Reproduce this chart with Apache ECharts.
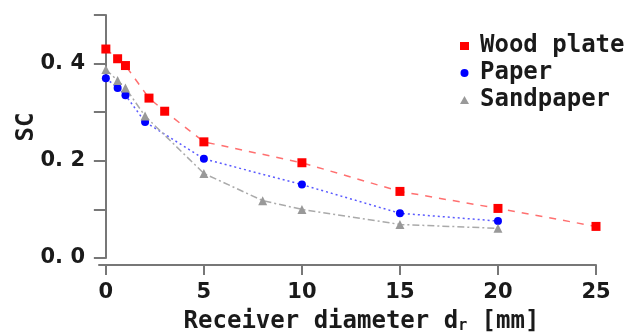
<!DOCTYPE html>
<html>
<head>
<meta charset="utf-8">
<script src="https://cdn.jsdelivr.net/npm/echarts@6/dist/echarts.min.js"></script>
<style>
  html, body { margin: 0; padding: 0; background: #fff; }
  #chart { width: 632px; height: 335px; }
</style>
</head>
<body>
<div id="chart"></div>
<script>
// receiver diameter dr [mm] and SC for each surface
const woodX = [0, 0.6, 1, 2.2, 3, 5, 10, 15, 20, 25];
const woodY = [0.43, 0.41, 0.396, 0.329, 0.302, 0.239, 0.196, 0.137, 0.102, 0.065];
const paperX = [0, 0.6, 1, 2, 5, 10, 15, 20];
const paperY = [0.37, 0.35, 0.335, 0.28, 0.204, 0.151, 0.092, 0.076];
const sandX = [0, 0.6, 1, 2, 5, 8, 10, 15, 20];
const sandY = [0.388, 0.365, 0.35, 0.292, 0.174, 0.118, 0.1, 0.069, 0.061];
const xTicks = [0, 5, 10, 15, 20, 25];
const yLabels = { "0": "0. 0", "0.2": "0. 2", "0.4": "0. 4" };

const font = "DejaVu Sans Mono";
const tickFont = "DejaVu Sans";
const ink = "#1a1a1a";
const pairs = (xs, ys) => xs.map((x, i) => [x, ys[i]]);

const chart = echarts.init(document.getElementById("chart"));
chart.setOption({
  animation: false,
  textStyle: { fontFamily: font, color: ink },
  grid: { left: 99, top: 15, right: 36, bottom: 77, outerBoundsMode: "none", containLabel: false },
  // y axis title, placed by hand
  graphic: [{
    type: "text",
    x: 27,
    y: 127,
    rotation: Math.PI / 2,
    style: {
      text: "SC",
      fontFamily: font, fontSize: 24, fontWeight: "bold", fill: ink,
      align: "center", verticalAlign: "middle"
    }
  }],
  legend: {
    orient: "vertical",
    left: 455,
    top: 29,
    itemWidth: 9,
    itemHeight: 8,
    itemGap: 3,
    textStyle: { fontFamily: font, fontSize: 24, lineHeight: 24, fontWeight: "bold", color: ink, padding: [0, 0, 0, 6] },
    data: [
      { name: "Wood plate", icon: "rect" },
      { name: "Paper", icon: "circle" },
      { name: "Sandpaper", icon: "triangle" }
    ]
  },
  xAxis: {
    type: "value",
    min: -0.35,
    max: 25,
    offset: 7,
    splitLine: { show: false },
    axisLine: { onZero: false, lineStyle: { color: "#777", width: 2 } },
    axisTick: { show: true, length: 10, lineStyle: { color: "#777", width: 2 }, customValues: xTicks },
    axisLabel: { fontFamily: tickFont, fontSize: 21, fontWeight: "bold", color: ink, margin: 17, customValues: xTicks },
    name: "{a|Receiver diameter d}{s|r}{a| [mm]}",
    nameLocation: "middle",
    nameGap: 45,
    nameTextStyle: {
      padding: [0, 0, 0, 28],
      rich: {
        a: { fontFamily: font, fontSize: 24, fontWeight: "bold", color: ink },
        s: { fontFamily: font, fontSize: 15, fontWeight: "bold", color: ink, padding: [8, 0, 0, 0] }
      }
    }
  },
  yAxis: {
    type: "value",
    min: 0,
    max: 0.5,
    interval: 0.1,
    splitLine: { show: false },
    axisLine: { lineStyle: { color: "#777", width: 2 } },
    axisTick: { show: true, length: 12, lineStyle: { color: "#777", width: 2 } },
    axisLabel: {
      fontFamily: tickFont, fontSize: 21, fontWeight: "bold", color: ink, margin: 14,
      formatter: v => yLabels[String(Math.round(v * 10) / 10)] || ""
    }
  },
  series: [
    {
      name: "Wood plate", type: "line", data: pairs(woodX, woodY),
      symbol: "rect", symbolSize: 9,
      itemStyle: { color: "#ff0000" },
      lineStyle: { color: "#ff7070", width: 1.5, type: [7, 7] }
    },
    {
      name: "Paper", type: "line", data: pairs(paperX, paperY),
      symbol: "circle", symbolSize: 8,
      itemStyle: { color: "#0000ff" },
      lineStyle: { color: "#5a5aff", width: 1.5, type: [2, 3] }
    },
    {
      name: "Sandpaper", type: "line", data: pairs(sandX, sandY),
      symbol: "triangle", symbolSize: 9,
      itemStyle: { color: "#999999" },
      lineStyle: { color: "#aaaaaa", width: 1.5, type: [7, 3, 2, 3] }
    }
  ]
});
</script>
</body>
</html>
